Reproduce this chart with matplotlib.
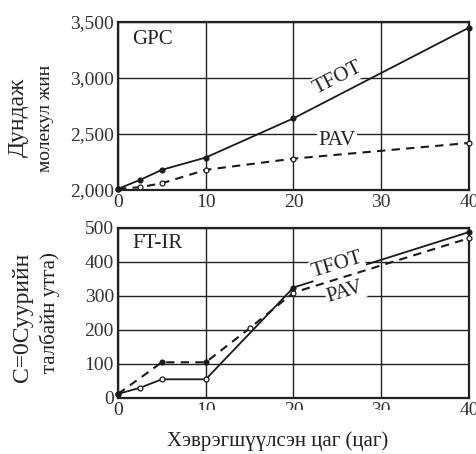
import matplotlib
matplotlib.use("Agg")
import matplotlib.pyplot as plt
from matplotlib.transforms import Bbox

plt.rcParams['font.family'] = ['Liberation Serif', 'DejaVu Serif']

# GPC: average molecular weight vs. degradation time
gpc_time = [0, 2.5, 5, 10, 20, 40]
gpc_tfot = [2010, 2090, 2180, 2290, 2640, 3450]
gpc_pav = [2010, 2025, 2060, 2180, 2280, 2420]

# FT-IR: C=O band area vs. degradation time
ftir_tfot_time = [0, 2.5, 5, 10, 20, 40]
ftir_tfot = [12, 30, 55, 55, 325, 488]
ftir_pav_time = [0, 5, 10, 15, 20, 40]
ftir_pav = [12, 105, 105, 205, 310, 470]

x_ticks = [0, 10, 20, 30, 40]
gpc_ticks = [2000, 2500, 3000, 3500]
gpc_tick_labels = ['2,000', '2,500', '3,000', '3,500']
ftir_ticks = [0, 100, 200, 300, 400, 500]

W, H = 477, 454
fig = plt.figure(figsize=(W / 100, H / 100), dpi=100)

def px_axes(left, top, right, bottom):
    return fig.add_axes([left / W, 1 - bottom / H, (right - left) / W, (bottom - top) / H])

ax1 = px_axes(118, 22, 469, 190)
ax2 = px_axes(118, 228, 469, 398)

def style(ax):
    ax.set_xlim(0, 40)
    ax.set_xticks(x_ticks)
    ax.grid(True, color='#222222', linewidth=1.0)
    ax.set_axisbelow(True)
    for s in ax.spines.values():
        s.set_linewidth(1.6)
        s.set_color('#222222')
    ax.tick_params(length=0, labelsize=14, colors='#333333', pad=3)

style(ax1)
style(ax2)

ax1.set_ylim(2000, 3500)
ax1.set_yticks(gpc_ticks)
ax1.set_yticklabels(gpc_tick_labels)
ax2.set_ylim(0, 500)
ax2.set_yticks(ftir_ticks)

line_kw = dict(color='#1a1a1a', linewidth=1.3, zorder=3)
dash_kw = dict(color='#1a1a1a', linewidth=1.5, linestyle=(0, (4, 3)), zorder=3)

def marks(ax, xs, ys, filled):
    for x, y, f in zip(xs, ys, filled):
        ax.plot(x, y, marker='o', markersize=3.5, markeredgewidth=0.9,
                markeredgecolor='#1a1a1a', markerfacecolor='#1a1a1a' if f else 'white',
                zorder=4, clip_on=False)

# GPC panel
ax1.plot(gpc_time, gpc_tfot, **line_kw)
ax1.plot(gpc_time, gpc_pav, **dash_kw)
marks(ax1, gpc_time, gpc_tfot, [True] * 6)
marks(ax1, gpc_time, gpc_pav, [True, False, False, False, False, False])

# FT-IR panel
ax2.plot(ftir_tfot_time, ftir_tfot, **line_kw)
ax2.plot(ftir_pav_time, ftir_pav, **dash_kw)
marks(ax2, ftir_tfot_time, ftir_tfot, [True, False, False, False, True, True])
marks(ax2, ftir_pav_time, ftir_pav, [True, True, True, False, False, False])

box = dict(facecolor='white', edgecolor='none', pad=1.0)
tkw = dict(fontsize=15, color='#222222', zorder=5)

ax1.text(1.6, 3348, 'GPC', ha='left', va='center', **tkw)
ax1.text(25, 3000, 'TFOT', ha='center', va='center', rotation=27, bbox=box, **tkw)
ax1.text(25, 2446, 'PAV', ha='center', va='center', bbox=box, **tkw)

ax2.text(1.6, 454, 'FT-IR', ha='left', va='center', **tkw)
ax2.text(25, 391, 'TFOT', ha='center', va='center', rotation=17, bbox=box, **tkw)
ax2.text(25.9, 312, 'PAV', ha='center', va='center', rotation=17, bbox=box, **tkw)

# y-axis titles
fig.text(18 / W, 1 - 117 / H, 'Дундаж', rotation=90, ha='center', va='center',
         fontsize=17, color='#222222')
fig.text(45 / W, 1 - 118 / H, 'молекул жин', rotation=90, ha='center', va='center',
         fontsize=14, color='#222222')
fig.text(23 / W, 1 - 317 / H, 'C=0Суурийн', rotation=90, ha='center', va='center',
         fontsize=17, color='#222222')
fig.text(50 / W, 1 - 313 / H, 'талбайн утга)', rotation=90, ha='center', va='center',
         fontsize=15, color='#222222')

fig.text(278 / W, 1 - 441 / H, 'Хэврэгшүүлсэн цаг (цаг)', ha='center', va='center',
         fontsize=15, color='#222222')

# lower-axis inner tick labels only show their upper half
fig.canvas.draw()
clip = Bbox.from_extents(0, H - 410, W, H)
for lbl in ax2.get_xticklabels():
    if lbl.get_text() in ('10', '20', '30'):
        lbl.set_clip_box(clip)
        lbl.set_clip_on(True)

fig.savefig('out.png', dpi=100)
